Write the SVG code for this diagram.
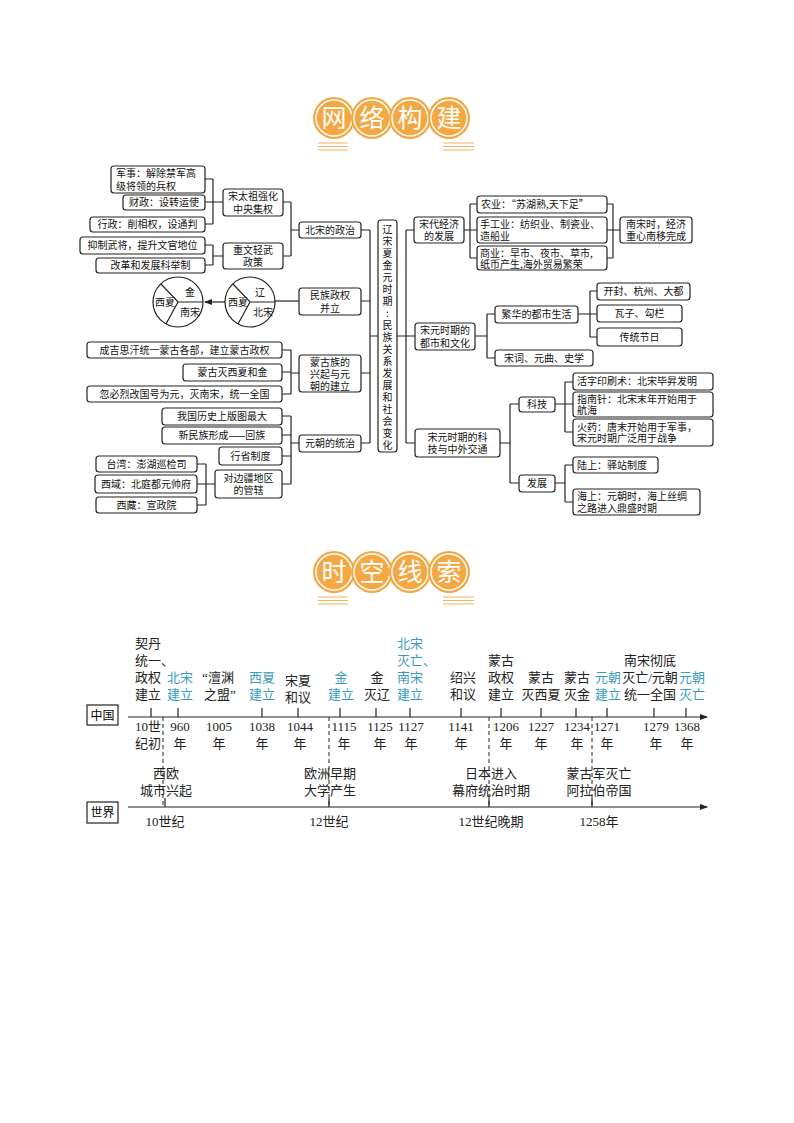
<svg xmlns="http://www.w3.org/2000/svg" width="794" height="1123" viewBox="0 0 794 1123">
<style>
.b{fill:#fff;stroke:#222;stroke-width:1.2}
.t{font-family:"Noto Sans CJK SC","Liberation Serif",serif;font-size:10px;fill:#111}
.c{text-anchor:middle}
.ln{fill:none;stroke:#222;stroke-width:1.2}
.tl{font-family:"Liberation Serif","Noto Sans CJK SC",serif;font-size:13px;fill:#222;text-anchor:middle}
.bl{fill:#3a9cbf}
.ttl{font-family:"Noto Sans CJK SC",sans-serif;font-size:25px;fill:#fff;text-anchor:middle}
.oc{fill:#f4a843;stroke:#fff;stroke-width:1.5}
.ol{stroke:#f4b35f;stroke-width:1}
.dash{stroke:#222;stroke-width:1;stroke-dasharray:4,3}
</style>
<defs>
<marker id="ar" markerWidth="8" markerHeight="8" refX="7" refY="4" orient="auto" markerUnits="userSpaceOnUse"><path d="M0,1 L8,4 L0,7 Z" fill="#222"/></marker>
</defs>
<rect width="794" height="1123" fill="#fff"/>

<g id="title1">
<circle cx="334" cy="118" r="21" fill="#f4a843"/><circle cx="334" cy="118" r="18" class="oc"/>
<circle cx="372" cy="118" r="21" fill="#f4a843"/><circle cx="372" cy="118" r="18" class="oc"/>
<circle cx="410" cy="118" r="21" fill="#f4a843"/><circle cx="410" cy="118" r="18" class="oc"/>
<circle cx="449" cy="118" r="21" fill="#f4a843"/><circle cx="449" cy="118" r="18" class="oc"/>
<text x="334" y="127" class="ttl">网</text><text x="372" y="127" class="ttl">络</text><text x="410" y="127" class="ttl">构</text><text x="449" y="127" class="ttl">建</text>
<path class="ol" d="M318 143H348M318 146.5H348M318 150H348M443 143H474M443 146.5H474M443 150H474"/>
</g>

<g id="title2">
<circle cx="334" cy="572" r="21" fill="#f4a843"/><circle cx="334" cy="572" r="18" class="oc"/>
<circle cx="372" cy="572" r="21" fill="#f4a843"/><circle cx="372" cy="572" r="18" class="oc"/>
<circle cx="410" cy="572" r="21" fill="#f4a843"/><circle cx="410" cy="572" r="18" class="oc"/>
<circle cx="449" cy="572" r="21" fill="#f4a843"/><circle cx="449" cy="572" r="18" class="oc"/>
<text x="334" y="581" class="ttl">时</text><text x="372" y="581" class="ttl">空</text><text x="410" y="581" class="ttl">线</text><text x="449" y="581" class="ttl">索</text>
<path class="ol" d="M318 597H348M318 600.5H348M318 604H348M443 597H474M443 600.5H474M443 604H474"/>
</g>

<g id="connectors">
<path class="ln" d="M205 179H213M205 202H223M205 224H213M213 179V224"/>
<path class="ln" d="M205 245H213M205 265H213M213 245V265M213 256H223"/>
<path class="ln" d="M283 202H291M283 256H291M291 202V256M291 230H299"/>
<path class="ln" d="M282 350H291M282 372H291M282 394H291M291 350V394M291 373H299"/>
<path class="ln" d="M282 416H291M282 435H291M282 456H291M282 484H291M291 416V484M291 443H299"/>
<path class="ln" d="M197 464H206M197 484H215M197 505H206M206 464V505"/>
<path class="ln" d="M361 230H370M361 301H370M361 373H370M361 443H370M370 230V443M370 336H378"/>
<path class="ln" d="M299 301H275"/>
<path class="ln" d="M225 302H205" marker-end="url(#ar)"/>
<path class="ln" d="M397 336H406M406 230V443M406 230H414M406 336H415M406 443H415"/>
<path class="ln" d="M464 230H477M470 204V258M470 204H477M470 258H477"/>
<path class="ln" d="M607 204H613M607 230H620M607 258H613M613 204V258"/>
<path class="ln" d="M475 336H487M487 314V358M487 314H495M487 358H495"/>
<path class="ln" d="M578 314H597M590 291V337M590 291H597M590 337H597"/>
<path class="ln" d="M500 443H510M510 404V483M510 404H519M510 483H519"/>
<path class="ln" d="M555 404H573M565 382V432M565 382H573M565 432H573"/>
<path class="ln" d="M555 483H565M565 465V502M565 465H573M565 502H573"/>
</g>

<g id="n-junshi"><rect class="b" x="111" y="166" width="94" height="27" rx="3"/><text class="t" x="116" y="177">军事：解除禁军高</text><text class="t" x="116" y="189.5">级将领的兵权</text></g>
<g id="n-caizheng"><rect class="b" x="123" y="195" width="82" height="15" rx="3"/><text class="t c" x="164" y="206">财政：设转运使</text></g>
<g id="n-xingzheng"><rect class="b" x="90" y="217" width="115" height="15" rx="3"/><text class="t c" x="147.5" y="228">行政：削相权，设通判</text></g>
<g id="n-songtaizu"><rect class="b" x="223" y="189" width="60" height="27" rx="3"/><text class="t c" x="253" y="200">宋太祖强化</text><text class="t c" x="253" y="212.5">中央集权</text></g>
<g id="n-yizhi"><rect class="b" x="80" y="237" width="125" height="17" rx="3"/><text class="t c" x="142.5" y="249">抑制武将，提升文官地位</text></g>
<g id="n-gaige"><rect class="b" x="96" y="258" width="109" height="15" rx="3"/><text class="t c" x="150.5" y="269">改革和发展科举制</text></g>
<g id="n-zhongwen"><rect class="b" x="223" y="243" width="60" height="26" rx="3"/><text class="t c" x="253" y="254">重文轻武</text><text class="t c" x="253" y="266">政策</text></g>
<g id="n-beisong"><rect class="b" x="299" y="222" width="62" height="16" rx="3"/><text class="t c" x="330" y="233.5">北宋的政治</text></g>
<g id="n-minzu"><rect class="b" x="299" y="288" width="62" height="27" rx="3"/><text class="t c" x="330" y="299">民族政权</text><text class="t c" x="330" y="311.5">并立</text></g>
<g id="n-circle1"><circle cx="250" cy="302" r="25" class="ln" fill="#fff"/><path class="ln" d="M233 284L250 302L275 302M250 302L238 324"/><text class="t" x="255" y="296">辽</text><text class="t" x="228" y="306">西夏</text><text class="t" x="253" y="316">北宋</text></g>
<g id="n-circle2"><circle cx="178" cy="302" r="25" class="ln" fill="#fff"/><path class="ln" d="M161 284L178 302L203 302M178 302L166 324"/><text class="t" x="185" y="296">金</text><text class="t" x="155" y="306">西夏</text><text class="t" x="180" y="316">南宋</text></g>
<g id="n-cjsh"><rect class="b" x="87" y="342" width="195" height="16" rx="3"/><text class="t c" x="184.5" y="353.5">成吉思汗统一蒙古各部，建立蒙古政权</text></g>
<g id="n-mgmxx"><rect class="b" x="183" y="364" width="99" height="17" rx="3"/><text class="t c" x="232.5" y="376">蒙古灭西夏和金</text></g>
<g id="n-hbl"><rect class="b" x="87" y="386" width="195" height="16" rx="3"/><text class="t c" x="184.5" y="397.5">忽必烈改国号为元，灭南宋，统一全国</text></g>
<g id="n-mgz"><rect class="b" x="299" y="355" width="62" height="37" rx="3"/><text class="t c" x="330" y="366">蒙古族的</text><text class="t c" x="330" y="378">兴起与元</text><text class="t c" x="330" y="390">朝的建立</text></g>
<g id="n-bantu"><rect class="b" x="162" y="408" width="120" height="17" rx="3"/><text class="t c" x="222" y="420">我国历史上版图最大</text></g>
<g id="n-huizu"><rect class="b" x="162" y="427" width="120" height="17" rx="3"/><text class="t c" x="222" y="439">新民族形成——回族</text></g>
<g id="n-xingsheng"><rect class="b" x="219" y="447" width="63" height="18" rx="3"/><text class="t c" x="250.5" y="459.5">行省制度</text></g>
<g id="n-bianjiang"><rect class="b" x="215" y="470" width="67" height="28" rx="3"/><text class="t c" x="248.5" y="481.5">对边疆地区</text><text class="t c" x="248.5" y="494">的管辖</text></g>
<g id="n-yuanchao"><rect class="b" x="299" y="435" width="62" height="17" rx="3"/><text class="t c" x="330" y="447">元朝的统治</text></g>
<g id="n-taiwan"><rect class="b" x="96" y="456" width="101" height="16" rx="3"/><text class="t c" x="146.5" y="467.5">台湾：澎湖巡检司</text></g>
<g id="n-xiyu"><rect class="b" x="95" y="475" width="102" height="18" rx="3"/><text class="t c" x="146" y="487.5">西域：北庭都元帅府</text></g>
<g id="n-xizang"><rect class="b" x="96" y="497" width="101" height="16" rx="3"/><text class="t c" x="146.5" y="508.5">西藏：宣政院</text></g>

<g id="n-center"><rect class="b" x="378" y="220" width="19" height="232" rx="3"/>
<text class="t c" x="387.5" y="233"><tspan x="387.5" dy="0">辽</tspan><tspan x="387.5" dy="12">宋</tspan><tspan x="387.5" dy="12">夏</tspan><tspan x="387.5" dy="12">金</tspan><tspan x="387.5" dy="12">元</tspan><tspan x="387.5" dy="12">时</tspan><tspan x="387.5" dy="12">期</tspan><tspan x="387.5" dy="12">:</tspan><tspan x="387.5" dy="12">民</tspan><tspan x="387.5" dy="12">族</tspan><tspan x="387.5" dy="12">关</tspan><tspan x="387.5" dy="12">系</tspan><tspan x="387.5" dy="12">发</tspan><tspan x="387.5" dy="12">展</tspan><tspan x="387.5" dy="12">和</tspan><tspan x="387.5" dy="12">社</tspan><tspan x="387.5" dy="12">会</tspan><tspan x="387.5" dy="12">变</tspan><tspan x="387.5" dy="12">化</tspan></text></g>

<g id="n-songjingji"><rect class="b" x="414" y="217" width="50" height="26" rx="3"/><text class="t c" x="439" y="228">宋代经济</text><text class="t c" x="439" y="240">的发展</text></g>
<g id="n-nongye"><rect class="b" x="477" y="196" width="130" height="17" rx="3"/><text class="t" x="481" y="208">农业：“苏湖熟,天下足”</text></g>
<g id="n-shougong"><rect class="b" x="477" y="217" width="130" height="26" rx="3"/><text class="t" x="480" y="228">手工业：纺织业、制瓷业、</text><text class="t" x="480" y="240">造船业</text></g>
<g id="n-shangye"><rect class="b" x="477" y="246" width="130" height="24" rx="3"/><text class="t" x="480" y="256.5">商业：早市、夜市、草市,</text><text class="t" x="480" y="267.5">纸币产生,海外贸易繁荣</text></g>
<g id="n-nansong"><rect class="b" x="620" y="217" width="72" height="26" rx="3"/><text class="t c" x="656" y="228">南宋时，经济</text><text class="t c" x="656" y="240">重心南移完成</text></g>
<g id="n-dushi"><rect class="b" x="415" y="323" width="60" height="27" rx="3"/><text class="t c" x="445" y="334">宋元时期的</text><text class="t c" x="445" y="346.5">都市和文化</text></g>
<g id="n-fanhua"><rect class="b" x="495" y="306" width="83" height="17" rx="3"/><text class="t c" x="536.5" y="318">繁华的都市生活</text></g>
<g id="n-songci"><rect class="b" x="495" y="350" width="98" height="16" rx="3"/><text class="t c" x="544" y="361.5">宋词、元曲、史学</text></g>
<g id="n-kaifeng"><rect class="b" x="597" y="283" width="93" height="17" rx="3"/><text class="t c" x="643.5" y="295">开封、杭州、大都</text></g>
<g id="n-wazi"><rect class="b" x="597" y="305" width="85" height="17" rx="3"/><text class="t c" x="639.5" y="317">瓦子、勾栏</text></g>
<g id="n-jieri"><rect class="b" x="597" y="328" width="85" height="18" rx="3"/><text class="t c" x="639.5" y="340.5">传统节日</text></g>
<g id="n-keji-jiaotong"><rect class="b" x="415" y="429" width="85" height="28" rx="3"/><text class="t c" x="457.5" y="440.5">宋元时期的科</text><text class="t c" x="457.5" y="453">技与中外交通</text></g>
<g id="n-keji"><rect class="b" x="519" y="397" width="36" height="15" rx="3"/><text class="t c" x="537" y="408">科技</text></g>
<g id="n-fazhan"><rect class="b" x="519" y="475" width="36" height="17" rx="3"/><text class="t c" x="537" y="487">发展</text></g>
<g id="n-huozi"><rect class="b" x="573" y="373" width="140" height="17" rx="3"/><text class="t" x="577" y="385">活字印刷术：北宋毕昇发明</text></g>
<g id="n-zhinan"><rect class="b" x="573" y="392" width="140" height="25" rx="3"/><text class="t" x="577" y="403">指南针：北宋末年开始用于</text><text class="t" x="577" y="414">航海</text></g>
<g id="n-huoyao"><rect class="b" x="573" y="419" width="140" height="27" rx="3"/><text class="t" x="577" y="430.5">火药：唐末开始用于军事，</text><text class="t" x="577" y="442">宋元时期广泛用于战争</text></g>
<g id="n-lushang"><rect class="b" x="573" y="457" width="85" height="16" rx="3"/><text class="t" x="577" y="468.5">陆上：驿站制度</text></g>
<g id="n-haishang"><rect class="b" x="573" y="489" width="127" height="26" rx="3"/><text class="t" x="577" y="500">海上：元朝时，海上丝绸</text><text class="t" x="577" y="511.5">之路进入鼎盛时期</text></g>

<g id="timeline">
<rect x="87" y="705" width="31" height="20" fill="#fff" stroke="#222" stroke-width="1.2"/>
<text x="102.5" y="720" style="font-family:'Noto Sans CJK SC',sans-serif;font-size:12px;text-anchor:middle">中国</text>
<rect x="87" y="802" width="31" height="21" fill="#fff" stroke="#222" stroke-width="1.2"/>
<text x="102.5" y="817" style="font-family:'Noto Sans CJK SC',sans-serif;font-size:12px;text-anchor:middle">世界</text>
<path class="ln" d="M128 717H707" marker-end="url(#ar)"/>
<path class="ln" d="M128 807H707" marker-end="url(#ar)"/>
<path class="ln" d="M151 708V717M178 708V717M262 708V717M298 708V717M340 708V717M376 708V717M410 708V717M461 708V717M501 708V717M541 708V717M576 708V717M607 708V717M654 708V717M686 708V717"/>
<path class="ln" d="M165 798V807M329 798V807M489 798V807M592 798V807"/>
<path class="dash" d="M163 717V807M329 717V807M489 717V807M592 717V807"/>
<g class="tl">
<text x="135" y="648" text-anchor="start">契丹</text><text x="135" y="665" text-anchor="start">统一、</text><text x="135" y="682" text-anchor="start">政权</text><text x="135" y="699" text-anchor="start">建立</text>
<text x="180" y="682" class="bl">北宋</text><text x="180" y="699" class="bl">建立</text>
<text x="218" y="682">“澶渊</text><text x="220" y="699">之盟”</text>
<text x="262" y="682" class="bl">西夏</text><text x="262" y="699" class="bl">建立</text>
<text x="298" y="685">宋夏</text><text x="298" y="702">和议</text>
<text x="341" y="682" class="bl">金</text><text x="341" y="699" class="bl">建立</text>
<text x="377" y="682">金</text><text x="377" y="699">灭辽</text>
<text x="397" y="648" text-anchor="start" class="bl">北宋</text><text x="397" y="665" text-anchor="start" class="bl">灭亡、</text><text x="397" y="682" text-anchor="start" class="bl">南宋</text><text x="397" y="699" text-anchor="start" class="bl">建立</text>
<text x="463" y="682">绍兴</text><text x="463" y="699">和议</text>
<text x="501" y="665">蒙古</text><text x="501" y="682">政权</text><text x="501" y="699">建立</text>
<text x="541" y="682">蒙古</text><text x="541" y="699">灭西夏</text>
<text x="577" y="682">蒙古</text><text x="577" y="699">灭金</text>
<text x="608" y="682" class="bl">元朝</text><text x="608" y="699" class="bl">建立</text>
<text x="650" y="665">南宋彻底</text><text x="650" y="682">灭亡/元朝</text><text x="650" y="699">统一全国</text>
<text x="692" y="682" class="bl">元朝</text><text x="692" y="699" class="bl">灭亡</text>
<text x="148" y="731">10世</text><text x="148" y="748">纪初</text>
<text x="180" y="731">960</text><text x="180" y="748">年</text>
<text x="219" y="731">1005</text><text x="219" y="748">年</text>
<text x="262" y="731">1038</text><text x="262" y="748">年</text>
<text x="300" y="731">1044</text><text x="300" y="748">年</text>
<text x="344" y="731">1115</text><text x="344" y="748">年</text>
<text x="380" y="731">1125</text><text x="380" y="748">年</text>
<text x="411" y="731">1127</text><text x="411" y="748">年</text>
<text x="461" y="731">1141</text><text x="461" y="748">年</text>
<text x="506" y="731">1206</text><text x="506" y="748">年</text>
<text x="541" y="731">1227</text><text x="541" y="748">年</text>
<text x="577" y="731">1234</text><text x="577" y="748">年</text>
<text x="607" y="731">1271</text><text x="607" y="748">年</text>
<text x="656" y="731">1279</text><text x="656" y="748">年</text>
<text x="687" y="731">1368</text><text x="687" y="748">年</text>
<text x="166" y="778">西欧</text><text x="166" y="795">城市兴起</text>
<text x="330" y="778">欧洲早期</text><text x="330" y="795">大学产生</text>
<text x="491" y="778">日本进入</text><text x="491" y="795">幕府统治时期</text>
<text x="599" y="778">蒙古军灭亡</text><text x="599" y="795">阿拉伯帝国</text>
<text x="165" y="826">10世纪</text>
<text x="329" y="826">12世纪</text>
<text x="491" y="826">12世纪晚期</text>
<text x="599" y="826">1258年</text>
</g>
</g>
</svg>
